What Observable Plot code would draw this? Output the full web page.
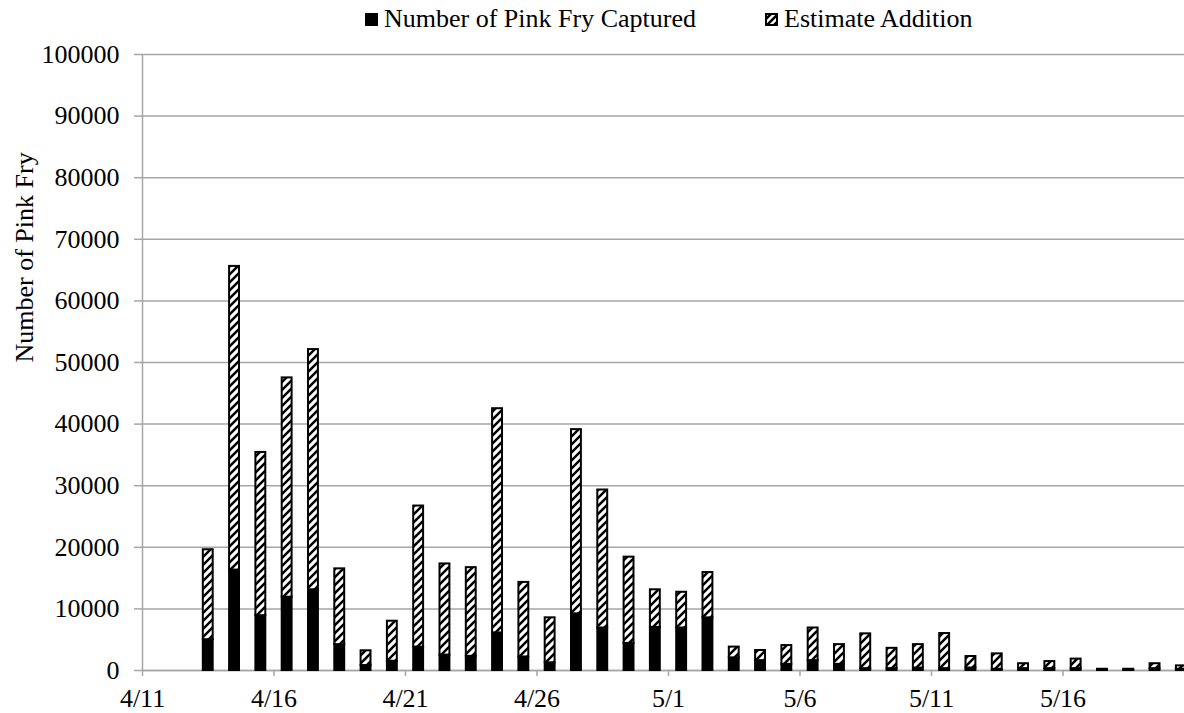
<!DOCTYPE html>
<html>
<head>
<meta charset="utf-8">
<script src="https://cdn.jsdelivr.net/npm/d3@7"></script>
<script src="https://cdn.jsdelivr.net/npm/@observablehq/plot@0.6"></script>
<style>
  html, body { margin: 0; padding: 0; background: #fff; overflow: hidden; }
  body { width: 1184px; height: 713px; position: relative; font-family: "Liberation Serif", "Times New Roman", serif; }
  #legend { position: absolute; left: 0; top: 0; width: 1184px; height: 40px; font-size: 26px; color: #000; }
  .item { position: absolute; top: 4px; display: flex; align-items: center; white-space: nowrap; line-height: 30px; }
  .sw { width: 13px; height: 13px; margin-right: 6px; display: inline-block; }
  #chart { position: absolute; left: 0; top: 40px; }
</style>
</head>
<body>
<div id="legend"></div>
<div id="chart"></div>
<script>
// ---- data ----
const year = 2014;
const dates = ["4/13","4/14","4/15","4/16","4/17","4/18","4/19","4/20","4/21","4/22","4/23","4/24","4/25","4/26",
               "4/27","4/28","4/29","4/30","5/1","5/2","5/3","5/4","5/5","5/6","5/7","5/8","5/9","5/10",
               "5/11","5/12","5/13","5/14","5/15","5/16","5/17","5/18","5/19","5/20"];
const captured = [5000,16300,8900,11900,13100,4200,800,1500,3800,2500,2300,6100,2200,1250,
                  9200,6900,4400,7000,6900,8550,2050,1600,1000,1600,1000,300,300,400,
                  300,400,200,300,300,300,50,50,300,200];
const addition = [14600,49300,26500,35600,39000,12300,2400,6500,22900,14800,14400,36400,12100,7300,
                  29900,22400,14000,6100,5800,7350,1750,1650,3050,5300,3200,5650,3300,3800,
                  5700,1870,2500,800,1150,1550,150,150,800,550];
const seriesNames = ["Number of Pink Fry Captured", "Estimate Addition"];
const yTicks = [0,10000,20000,30000,40000,50000,60000,70000,80000,90000,100000];
const xTickLabels = ["4/11","4/16","4/21","4/26","5/1","5/6","5/11","5/16"];
const xDomainLabels = ["4/11","5/21"];
const yTitle = "Number of Pink Fry";

// ---- helpers ----
const parse = s => { const [m, d] = s.split("/").map(Number); return new Date(Date.UTC(year, m - 1, d)); };
const gray = "#a6a6a6";

const rows = [];
dates.forEach((s, i) => {
  const x1 = parse(s), x2 = d3.utcDay.offset(x1, 1);
  rows.push({x1, x2, y1: 0, y2: captured[i], series: seriesNames[0]});
  rows.push({x1, x2, y1: captured[i], y2: captured[i] + addition[i], series: seriesNames[1]});
});

const chart = Plot.plot({
  width: 1184,
  height: 673,
  marginTop: 14,
  marginBottom: 43,
  marginLeft: 142,
  marginRight: -10,
  style: {fontFamily: "Liberation Serif, Times New Roman, serif", fontSize: "26px", color: "black", background: "white"},
  x: {type: "utc", domain: xDomainLabels.map(parse)},
  y: {domain: [0, 100000]},
  color: {type: "ordinal", domain: seriesNames, range: ["black", "url(#hatch)"]},
  marks: [
    Plot.gridY({ticks: yTicks, stroke: gray, strokeOpacity: 1, strokeWidth: 1.5}),
    Plot.axisY({ticks: yTicks, tickSize: 8, tickPadding: 15, tickFormat: d => String(d), stroke: gray, strokeWidth: 1.5, fill: "black", label: null}),
    Plot.axisX({ticks: xTickLabels.map(parse), tickFormat: d3.utcFormat("%-m/%-d"), tickSize: 6, tickPadding: 12, stroke: gray, strokeWidth: 1.5, fill: "black", label: null}),
    Plot.ruleX([parse(xDomainLabels[0])], {stroke: gray, strokeWidth: 1.5}),
    Plot.ruleY([0], {stroke: gray, strokeWidth: 1.5}),
    Plot.rect(rows, {x1: "x1", x2: "x2", y1: "y1", y2: "y2", fill: "series", stroke: "black", strokeWidth: 2, insetLeft: 8.2, insetRight: 8.2}),
    Plot.text([yTitle], {text: d => d, frameAnchor: "left", rotate: -90, dx: -118, fill: "black"})
  ]
});

// hatch pattern (wide upward diagonal)
const defs = d3.select(chart).insert("defs", ":first-child");
const pat = defs.append("pattern").attr("id", "hatch").attr("patternUnits", "userSpaceOnUse").attr("width", 8).attr("height", 8);
pat.append("rect").attr("width", 8).attr("height", 8).attr("fill", "white");
pat.append("path").attr("d", "M-2,2L2,-2M0,8L8,0M6,10L10,6").attr("stroke", "black").attr("stroke-width", 2.5);

document.getElementById("chart").appendChild(chart);

// legend
const legend = d3.select("#legend");
const lefts = [365, 765];
seriesNames.forEach((name, i) => {
  const item = legend.append("div").attr("class", "item").style("left", lefts[i] + "px");
  const sw = item.append("svg").attr("class", "sw").attr("width", 13).attr("height", 13).attr("viewBox", "0 0 13 13");
  if (i === 0) {
    sw.append("rect").attr("width", 13).attr("height", 13).attr("fill", "black");
  } else {
    const p = sw.append("defs").append("pattern").attr("id", "hatchL").attr("patternUnits", "userSpaceOnUse").attr("width", 7).attr("height", 7);
    p.append("rect").attr("width", 7).attr("height", 7).attr("fill", "white");
    p.append("path").attr("d", "M-2,2L2,-2M0,7L7,0M5,9L9,5").attr("stroke", "black").attr("stroke-width", 2.5);
    sw.append("rect").attr("x", 1).attr("y", 1).attr("width", 11).attr("height", 11).attr("fill", "url(#hatchL)").attr("stroke", "black").attr("stroke-width", 2);
  }
  item.append("span").text(name);
});
</script>
</body>
</html>
